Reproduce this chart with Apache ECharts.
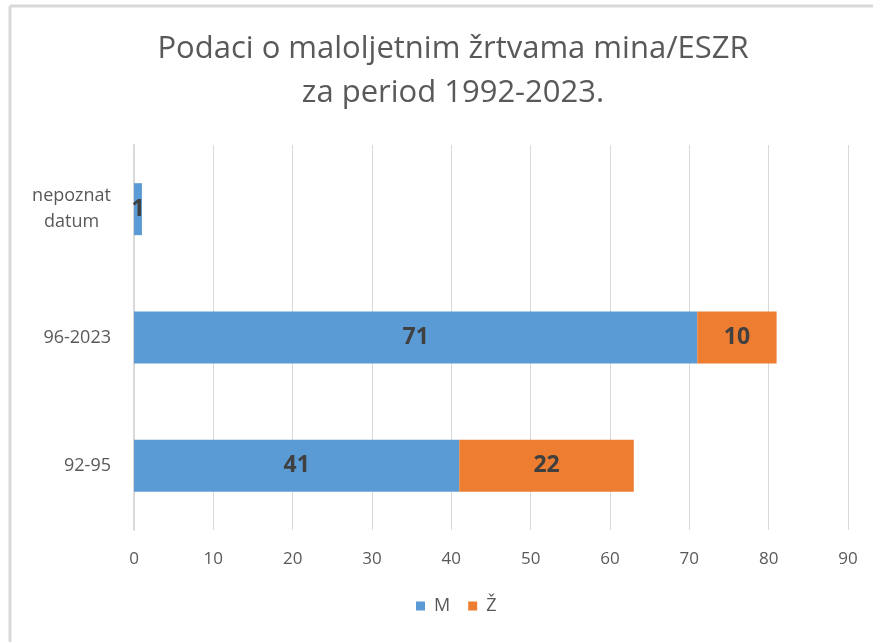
<!DOCTYPE html>
<html>
<head>
<meta charset="utf-8">
<script src="https://cdn.jsdelivr.net/npm/echarts@6/dist/echarts.min.js"></script>
<style>
  html, body { margin: 0; padding: 0; background: #fff; }
  #chart { width: 873px; height: 642px; }
</style>
</head>
<body>
<div id="chart"></div>
<script>
  let categories = ['92-95', '96-2023', 'nepoznat\ndatum'];
  let maleValues = [41, 71, 1];
  let femaleValues = [22, 10, 0];
  let xTicks = [0, 10, 20, 30, 40, 50, 60, 70, 80, 90];

  let TEXT = '#595959';
  let FONT = 'Open Sans';

  let chart = echarts.init(document.getElementById('chart'));

  let barLabel = {
    show: true,
    position: 'inside',
    fontSize: 23,
    fontWeight: 'bold',
    fontFamily: FONT,
    color: '#404040',
    formatter: p => (p.value ? String(p.value) : '')
  };

  let option = {
    backgroundColor: '#fff',
    animation: false,
    title: {
      text: 'Podaci o maloljetnim žrtvama mina/ESZR\nza period 1992-2023.',
      left: 448,
      textAlign: 'center',
      top: 22,
      textStyle: { fontSize: 31, fontWeight: 'normal', color: TEXT, fontFamily: FONT, lineHeight: 44 }
    },
    legend: {
      bottom: 22,
      left: 411,
      itemWidth: 9,
      itemHeight: 9,
      itemGap: 18,
      icon: 'rect',
      textStyle: { fontSize: 18, color: TEXT, fontFamily: FONT, padding: [0, 0, 0, 4] },
      data: ['M', 'Ž']
    },
    grid: { left: 134, right: 25, top: 145, bottom: 112, containLabel: false },
    xAxis: {
      type: 'value',
      min: xTicks[0],
      max: xTicks[xTicks.length - 1],
      interval: 10,
      axisLine: { show: false },
      axisTick: { show: false },
      splitLine: { lineStyle: { color: '#d9d9d9', width: 1 } },
      axisLabel: { fontSize: 17, color: TEXT, fontFamily: FONT, margin: 21 }
    },
    yAxis: {
      type: 'category',
      data: categories,
      axisLine: { show: true, lineStyle: { color: '#d9d9d9', width: 2 } },
      axisTick: { show: false },
      axisLabel: {
        color: TEXT,
        fontFamily: FONT,
        margin: 23,
        align: 'right',
        formatter: v => v.split('\n').map(s => '{c|' + s + '}').join('\n'),
        rich: { c: { fontSize: 18, color: TEXT, fontFamily: FONT, lineHeight: 26, align: 'center' } }
      }
    },
    series: [
      {
        name: 'M',
        type: 'bar',
        stack: 'total',
        barWidth: 52,
        itemStyle: { color: '#5b9bd5' },
        label: barLabel,
        data: maleValues
      },
      {
        name: 'Ž',
        type: 'bar',
        stack: 'total',
        barWidth: 52,
        itemStyle: { color: '#ed7d31' },
        label: barLabel,
        data: femaleValues
      }
    ],
    graphic: [
      { type: 'line', shape: { x1: 10, y1: 6, x2: 873, y2: 6 }, style: { stroke: '#d9d9d9', lineWidth: 3 } },
      { type: 'line', shape: { x1: 10, y1: 6, x2: 10, y2: 642 }, style: { stroke: '#d9d9d9', lineWidth: 3 } }
    ]
  };

  chart.setOption(option);
</script>
</body>
</html>
